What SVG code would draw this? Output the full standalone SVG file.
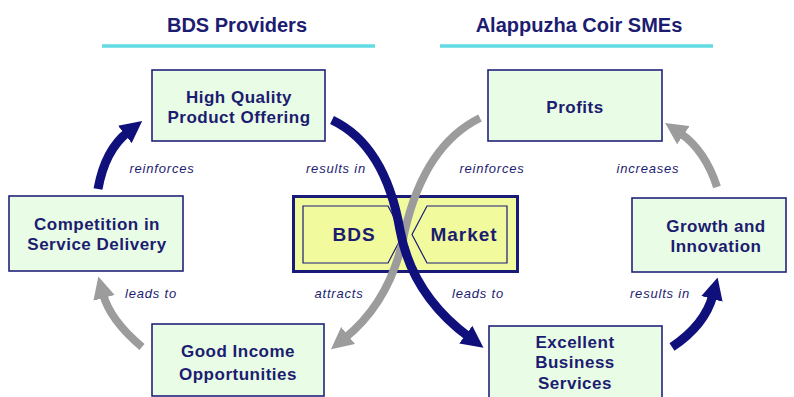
<svg xmlns="http://www.w3.org/2000/svg" width="794" height="397" viewBox="0 0 794 397">
<style>
.hd{font-family:"Liberation Sans",Arial,sans-serif;font-weight:bold;font-size:20px;fill:#1c1c70;text-anchor:middle}
.bx{fill:#e9fde6;stroke:#22227a;stroke-width:1.6}
.bt{font-family:"Liberation Sans",Arial,sans-serif;font-weight:bold;font-size:17px;letter-spacing:0.5px;fill:#1c1c70;text-anchor:middle}
.lb{font-family:"Liberation Sans",Arial,sans-serif;font-style:italic;font-size:13px;letter-spacing:0.8px;fill:#1c1c70;text-anchor:middle}
.rule{stroke:#62dbe3;stroke-width:3.5}
.nv{fill:none;stroke:#10107c;stroke-width:9;marker-end:url(#hn)}
.gr{fill:none;stroke:#9c9c9c;stroke-width:8;marker-end:url(#hg)}
.yl{fill:#f1fa9c;stroke:#1a1a78}
</style>
<defs>
<marker id="hn" viewBox="0 0 22 22" markerUnits="userSpaceOnUse" markerWidth="22" markerHeight="22" refX="4" refY="11" orient="auto"><path d="M0,0 L22,11 L0,22 Z" fill="#10107c"/></marker>
<marker id="hg" viewBox="0 0 22 22" markerUnits="userSpaceOnUse" markerWidth="22" markerHeight="22" refX="4" refY="11" orient="auto"><path d="M0,0 L22,11 L0,22 Z" fill="#9c9c9c"/></marker>
</defs>
<rect width="794" height="397" fill="#ffffff"/>
<g id="headings">
<text class="hd" x="237" y="32">BDS Providers</text>
<line class="rule" x1="102" y1="46" x2="375" y2="46"/>
<text class="hd" x="579" y="32">Alappuzha Coir SMEs</text>
<line class="rule" x1="440" y1="46" x2="713" y2="46"/>
</g>
<g id="center">
<rect x="293.5" y="196.5" width="224" height="75" fill="#f1fa9c" stroke="#1a1a78" stroke-width="3"/>
<path class="yl" stroke-width="1.2" d="M303,206 L388,206 L403,234.5 L388,263 L303,263 Z"/>
<path class="yl" stroke-width="1.2" d="M427,206 L507,206 L507,263 L427,263 L412,234.5 Z"/>
<text class="bt" style="font-size:19px;letter-spacing:1px" x="354" y="241">BDS</text>
<text class="bt" style="font-size:19px;letter-spacing:1px" x="464" y="241">Market</text>
</g>
<g id="hq"><rect class="bx" x="152" y="70" width="173" height="71"/>
<text class="bt" x="239" y="103">High Quality</text><text class="bt" x="239" y="123">Product Offering</text></g>
<g id="profits"><rect class="bx" x="488" y="70" width="174" height="71"/>
<text class="bt" x="575" y="113">Profits</text></g>
<g id="competition"><rect class="bx" x="9" y="196" width="174" height="75"/>
<text class="bt" x="97" y="230">Competition in</text><text class="bt" x="97" y="250">Service Delivery</text></g>
<g id="growth"><rect class="bx" x="632" y="198" width="154" height="74"/>
<text class="bt" x="716" y="232">Growth and</text><text class="bt" x="716" y="252">Innovation</text></g>
<g id="income"><rect class="bx" x="152" y="324" width="172" height="72"/>
<text class="bt" x="238" y="357">Good Income</text><text class="bt" x="238" y="380">Opportunities</text></g>
<g id="services"><rect class="bx" x="489" y="326" width="173" height="72"/>
<text class="bt" x="575" y="348">Excellent</text><text class="bt" x="575" y="368">Business</text><text class="bt" x="575" y="389">Services</text></g>
<g id="connectors">
<path class="nv" d="M98,189 Q105,150 128,132"/>
<path class="gr" d="M142,347 Q110,320 103,294"/>
<path class="gr" d="M717,187 Q705,150 680,133"/>
<path class="nv" d="M672,347 Q705,325 713,295"/>
<path class="gr" d="M480,118 Q425,145 405,230 Q392,300 345,338"/>
<path class="nv" d="M332,120 Q385,145 400,230 Q412,295 469,337"/>
</g>
<g id="labels">
<text class="lb" x="162" y="173">reinforces</text>
<text class="lb" x="336" y="173">results in</text>
<text class="lb" x="492" y="173">reinforces</text>
<text class="lb" x="648" y="173">increases</text>
<text class="lb" x="151" y="298">leads to</text>
<text class="lb" x="339" y="298">attracts</text>
<text class="lb" x="478" y="298">leads to</text>
<text class="lb" x="660" y="298">results in</text>
</g>
</svg>
